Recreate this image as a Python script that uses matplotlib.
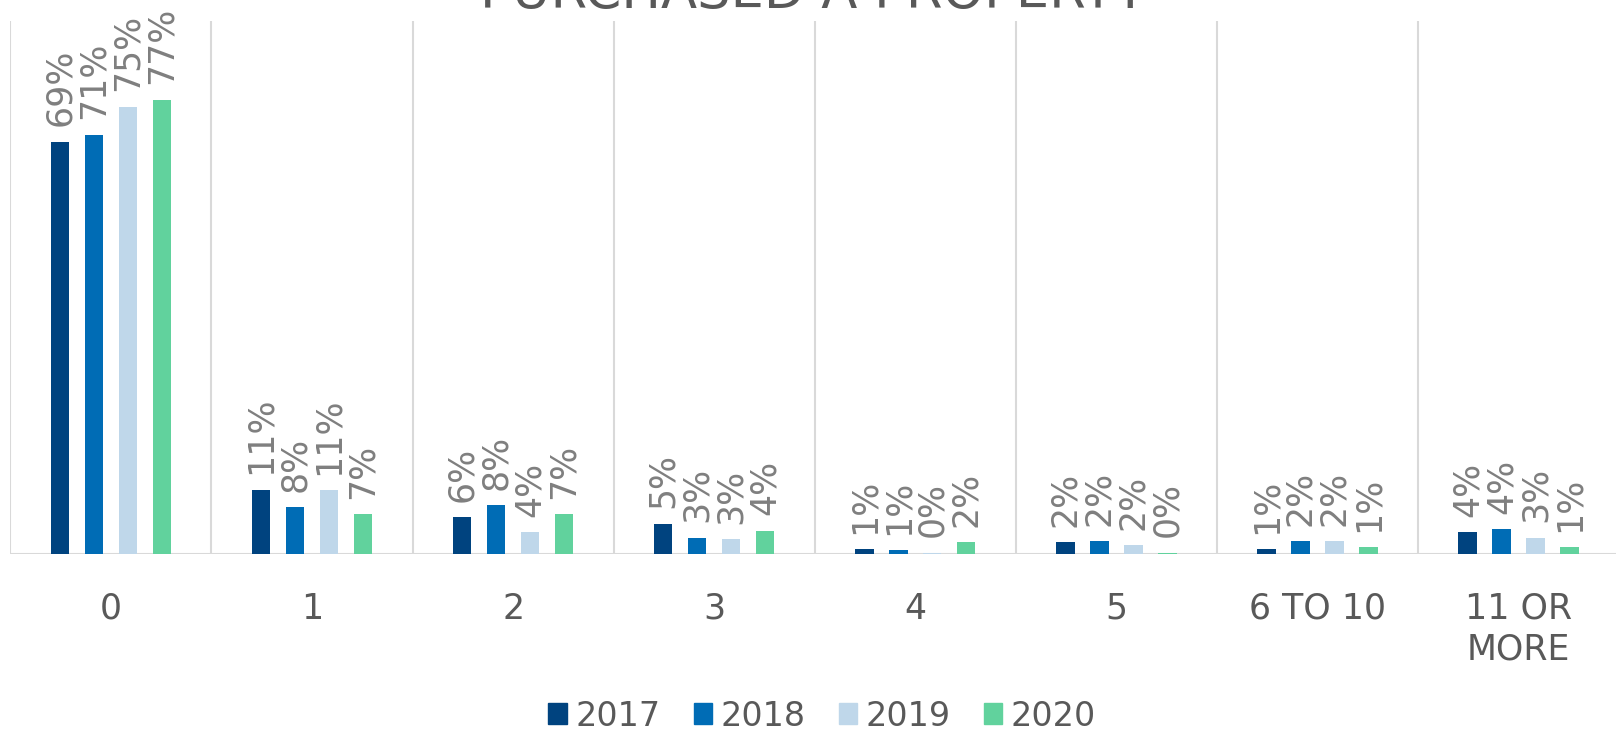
import numpy as np
import matplotlib
matplotlib.use("Agg")
import matplotlib.pyplot as plt
from matplotlib.patches import Patch

plt.rcParams['font.family'] = ['DejaVu Sans']

# data (share of respondents, %)
categories = ['0', '1', '2', '3', '4', '5', '6 TO 10', '11 OR\nMORE']
years = ['2017', '2018', '2019', '2020']
v2017 = [69.6, 10.9, 6.3, 5.2, 0.9, 2.0, 0.9, 3.7]
v2018 = [70.8, 8.0, 8.3, 2.8, 0.7, 2.2, 2.2, 4.2]
v2019 = [75.5, 10.8, 3.8, 2.6, 0.3, 1.6, 2.2, 2.8]
v2020 = [76.7, 6.8, 6.8, 4.0, 2.1, 0.3, 1.2, 1.2]
labels2017 = ['69%', '11%', '6%', '5%', '1%', '2%', '1%', '4%']
labels2018 = ['71%', '8%', '8%', '3%', '1%', '2%', '2%', '4%']
labels2019 = ['75%', '11%', '4%', '3%', '0%', '2%', '2%', '3%']
labels2020 = ['77%', '7%', '7%', '4%', '2%', '0%', '1%', '1%']

colors = ['#00437f', '#006cb5', '#bfd7ea', '#61d29d']
series = [v2017, v2018, v2019, v2020]
series_labels = [labels2017, labels2018, labels2019, labels2020]

fig = plt.figure(figsize=(16.16, 7.35), dpi=100)
ax = fig.add_axes([0.0064, 0.2458, 0.9955, 0.7261])

x = np.arange(len(categories))
step = 0.169
width = 0.092

for i, (vals, labs) in enumerate(zip(series, series_labels)):
    pos = x + (i - 1.5) * step
    bars = ax.bar(pos, vals, width, color=colors[i], zorder=3)
    for b, lab in zip(bars, labs):
        ax.annotate(lab, (b.get_x() + b.get_width() / 2, b.get_height()),
                    xytext=(0, 11), textcoords='offset points',
                    rotation=90, ha='center', va='bottom',
                    fontsize=25, color='#7f7f7f')

# category separators and baseline
for b in np.arange(-0.5, len(categories) + 0.5, 1):
    ax.axvline(b, color='#d9d9d9', lw=1.5, zorder=1)
ax.axhline(0, color='#d9d9d9', lw=1.5, zorder=2)

ax.set_xlim(-0.5, len(categories) - 0.5)
ax.set_ylim(0, 90)
ax.set_yticks([])
ax.set_xticks(x, categories, fontsize=25, color='#595959', linespacing=1.25)
ax.tick_params(axis='x', length=0, pad=27)
for s in ax.spines.values():
    s.set_visible(False)

# title sits mostly above the canvas, as in the source
fig.text(0.503, 0.989, 'PURCHASED A PROPERTY', ha='center', va='baseline',
         fontsize=38, color='#595959')

handles = [Patch(color=c, label=y) for c, y in zip(colors, years)]
fig.legend(handles=handles, loc='center', bbox_to_anchor=(822 / 1616, 1 - 716 / 735),
           ncol=4, frameon=False, fontsize=24, labelcolor='#595959',
           handlelength=0.55, handleheight=0.6, handletextpad=0.25,
           columnspacing=1.0)

fig.savefig('out.png', dpi=100)
